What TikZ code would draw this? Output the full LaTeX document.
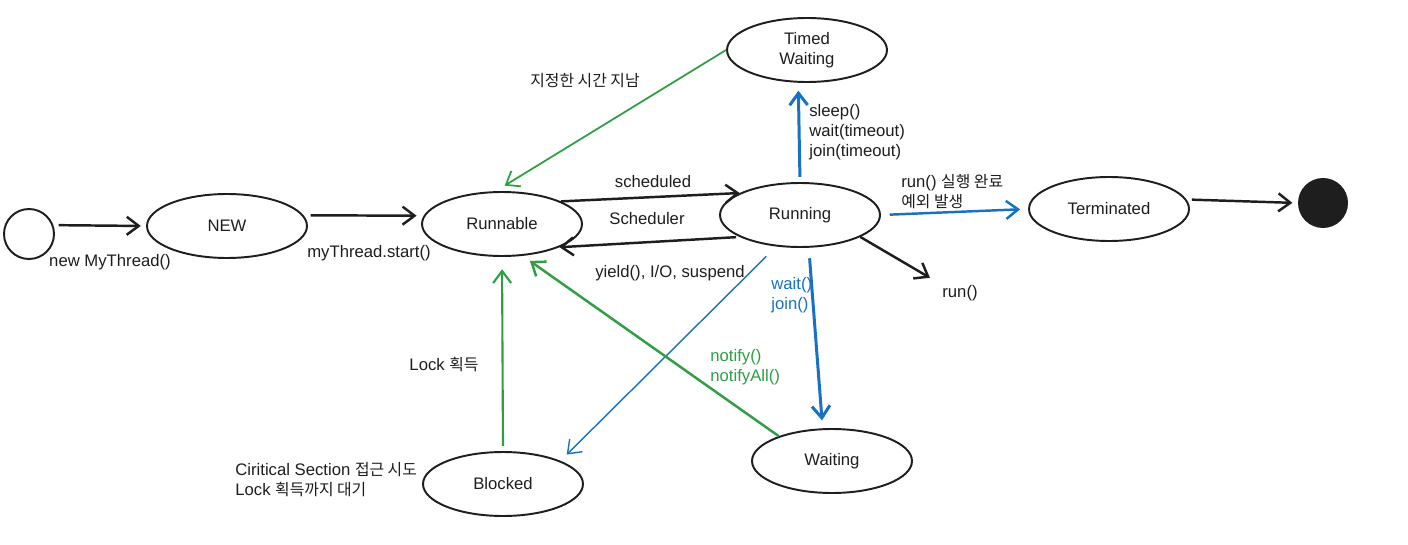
\documentclass[tikz,border=0pt]{standalone}
\usepackage{fontspec}
\setmainfont{Liberation Sans}
\newfontfamily\kr{Noto Sans CJK KR}[Scale=0.95]
\usepackage{xcolor}
\usepackage{tikz}
\usetikzlibrary{positioning,arrows.meta,shapes.geometric}
\definecolor{ink}{RGB}{30,30,30}
\definecolor{exblue}{RGB}{25,113,194}
\definecolor{exgreen}{RGB}{47,158,68}
\newcommand{\lbl}{\fontsize{9.5}{11.4}\selectfont}
\tikzset{
  st/.style={ellipse, draw=ink, line width=1.1pt, minimum width=3.2cm, minimum height=1.28cm, inner sep=0pt, align=center, font=\lbl, text=ink},
  arr/.style={-{Straight Barb[length=2.4mm,width=3.6mm]}, line width=1.4pt, draw=ink},
  barr/.style={arr, draw=exblue},
  garr/.style={arr, draw=exgreen},
  txt/.style={inner sep=0pt, align=left, font=\lbl, text=ink},
}

\begin{document}
\begin{tikzpicture}[x=0.02cm, y=-0.02cm]
    \useasboundingbox[fill=white] (0,0) rectangle (1408,544);
    % states
    \node[circle, draw=ink, line width=1.1pt, minimum size=1cm, inner sep=0pt] (start) at (29,234) {};
    \node[st] (new) at (227,226) {NEW};
    \node[st] (runnable) at (502,224) {Runnable};
    \node[st] (running) at (800,215) {Running};
    \node[st] (timed) at (807,50) {Timed\\Waiting};
    \node[st] (term) at (1109,209) {Terminated};
    \node[circle, fill=ink, minimum size=1cm, inner sep=0pt] (fin) at (1323,203) {};
    \node[st] (blocked) at (503,484) {Blocked};
    \node[st] (waiting) at (832,461) {Waiting};
    \node[txt] (runtxt) at (960,293) {run()};
    % transitions
    \draw[arr, shorten <=3pt, shorten >=3pt] (start.20) -- (new.west);
    \draw[arr, shorten <=4pt, shorten >=4pt] (new.8) -- (runnable.174);
    \draw[arr] (runnable.21) -- (running.160);
    \draw[arr, shorten <=2pt] (running.200) -- (runnable.338);
    \draw[barr, line width=1.7pt, shorten <=3pt, shorten >=4.5pt] (running.north) -- (timed.255);
    \draw[garr, line width=1pt, shorten >=6pt] (timed.west) -- (runnable.101);
    \draw[barr, shorten <=5pt, shorten >=4.5pt] (running.east) -- (term.west);
    \draw[arr, shorten <=3pt, shorten >=3pt] (term.7) -- (fin.west);
    \draw[arr, shorten >=8pt] (running.340) -- (runtxt.north west);
    \draw[barr, line width=0.8pt, shorten <=8pt, shorten >=5pt] (running.233) -- (blocked.22);
    \draw[barr, line width=1.7pt, shorten <=6pt, shorten >=4.5pt] (running.285) -- (waiting.106);
    \draw[garr, shorten >=5pt] (waiting.155) -- (runnable.303);
    \draw[garr, line width=1.2pt, shorten <=3pt, shorten >=7pt] (blocked.north) -- (runnable.south);
    % labels
    \node[txt] (lnew) at (110,262) {new MyThread()};
    \node[txt] (lstart) at (369,253) {myThread.start()};
    \node[txt] (lsched) at (653,182) {scheduled};
    \node[txt] (lsch) at (647,219) {Scheduler};
    \node[txt] (lyield) at (670,273) {yield(), I/O, suspend};
    \node[txt, anchor=west] (lsleep) at (809,132) {sleep()\\wait(timeout)\\join(timeout)};
    \node[txt] (ltime) at (585,81) {\kr 지정한 시간 지남};
    \node[txt, anchor=west] (ldone) at (901,192) {run() {\kr 실행 완료}\\{\kr 예외 발생}};
    \node[txt, anchor=west, text=exblue] (lwait) at (771,295) {wait()\\join()};
    \node[txt, anchor=west, text=exgreen] (lnotify) at (710,367) {notify()\\notifyAll()};
    \node[txt] (llock) at (444,365) {Lock {\kr 획득}};
    \node[txt, anchor=west] (lcrit) at (235,480) {Ciritical Section {\kr 접근 시도}\\Lock {\kr 획득까지 대기}};
\end{tikzpicture}
\end{document}
